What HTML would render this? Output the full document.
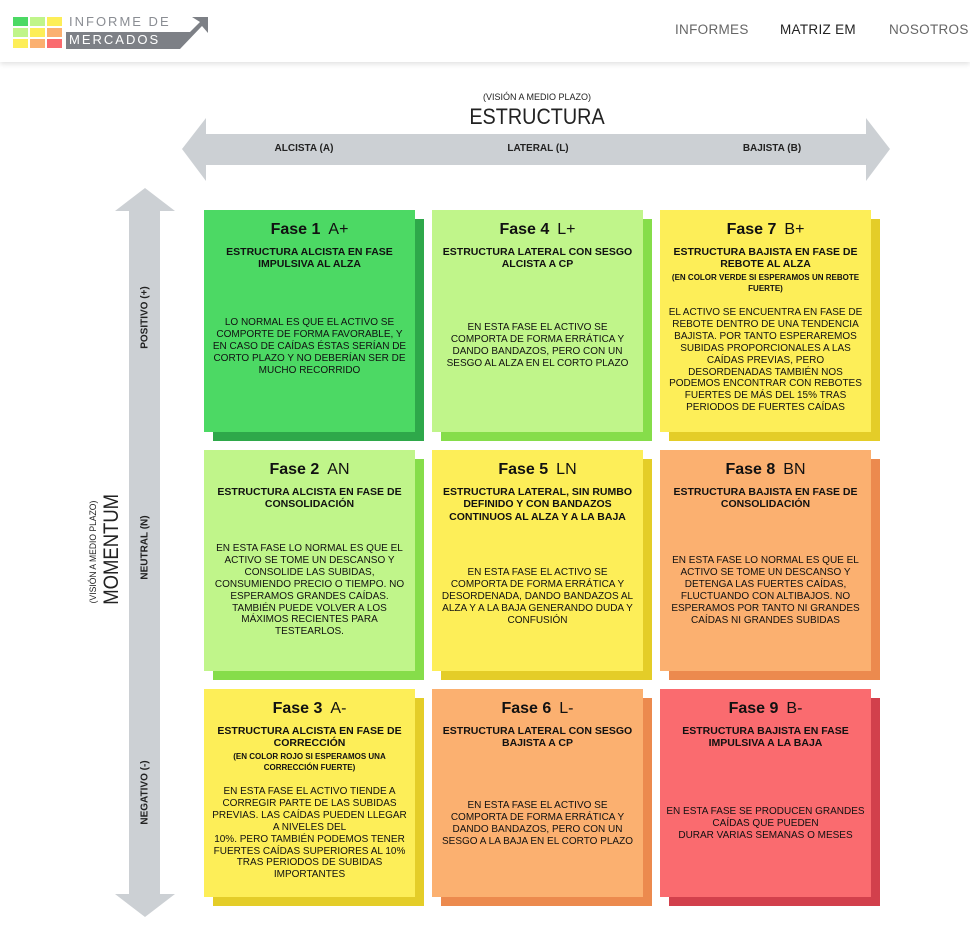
<!DOCTYPE html>
<html><head><meta charset="utf-8">
<style>
*{margin:0;padding:0;box-sizing:border-box}
body{width:970px;height:949px;background:#fff;font-family:"Liberation Sans",sans-serif;position:relative;overflow:hidden;color:#111}
.hdr{position:absolute;left:0;top:0;width:970px;height:62px;background:#fff;box-shadow:0 2px 5px rgba(0,0,0,.12)}
.nav{position:absolute;top:22px;font-size:13.5px;letter-spacing:.3px;color:#666;white-space:nowrap}
.ab{position:absolute;text-align:center;color:#222;white-space:nowrap}
.card{position:absolute;width:211px}
.card .sh{position:absolute;left:9px;top:9px;width:211px}
.card .fr{position:absolute;left:0;top:0;width:211px}
.t{position:absolute;left:0;width:211px;top:11px;text-align:center;font-size:16px;font-weight:bold;line-height:18px}
.t span{font-weight:normal;margin-left:8px}
.tx{position:absolute;left:-10px;width:231px;text-align:center;white-space:nowrap}
.s{font-size:10.5px;font-weight:bold;line-height:12.3px}
.n{font-size:8px;font-weight:bold;line-height:11px;margin-top:1px}
.b{position:absolute;left:-10px;width:231px;text-align:center;font-size:10px;line-height:11.9px;white-space:nowrap}
</style></head><body>
<div class="hdr">
 <div style="position:absolute;left:13px;top:17px;width:58px;height:32px">
  <div style="position:absolute;left:0;top:0;width:15px;height:9px;background:#4cd964"></div>
  <div style="position:absolute;left:17px;top:0;width:15px;height:9px;background:#c0f58a"></div>
  <div style="position:absolute;left:34px;top:0;width:15px;height:9px;background:#fdee58"></div>
  <div style="position:absolute;left:0;top:11px;width:15px;height:9px;background:#c0f58a"></div>
  <div style="position:absolute;left:17px;top:11px;width:15px;height:9px;background:#fdee58"></div>
  <div style="position:absolute;left:34px;top:11px;width:15px;height:9px;background:#fbb070"></div>
  <div style="position:absolute;left:0;top:22px;width:15px;height:9px;background:#fdee58"></div>
  <div style="position:absolute;left:17px;top:22px;width:15px;height:9px;background:#fbb070"></div>
  <div style="position:absolute;left:34px;top:22px;width:15px;height:9px;background:#fa6b6f"></div>
 </div>
 <svg style="position:absolute;left:66px;top:16px" width="142" height="33">
  <polygon points="0,16 124,16 134,6 126,1 142,1 142,17 136,10 114,33 0,33" fill="#7d8086"/>
 </svg>
 <div style="position:absolute;left:69px;top:14px;font-size:13px;letter-spacing:2px;color:#8a8d93">INFORME DE</div>
 <div style="position:absolute;left:69px;top:32px;font-size:13px;letter-spacing:2px;color:#fff">MERCADOS</div>
 <div class="nav" style="left:675px">INFORMES</div>
 <div class="nav" style="left:780px;color:#222">MATRIZ EM</div>
 <div class="nav" style="left:889px">NOSOTROS</div>
</div>

<svg style="position:absolute;left:0;top:0" width="970" height="949">
 <polygon points="182,149 206,118 206,134 866,134 866,118 890,149 866,181 866,165 206,165 206,181" fill="#ccd0d4"/>
 <polygon points="145,188 175,211 160,211 160,894 175,894 145,917 115,894 129,894 129,211 115,211" fill="#ccd0d4"/>
</svg>
<div class="ab" style="left:437px;top:92px;width:200px;font-size:9px">(VISIÓN A MEDIO PLAZO)</div>
<div class="ab" style="left:437px;top:104px;width:200px;font-size:22px;transform:scaleX(.9)">ESTRUCTURA</div>
<div class="ab" style="left:254px;top:143px;width:100px;font-size:10px;font-weight:bold">ALCISTA (A)</div>
<div class="ab" style="left:488px;top:143px;width:100px;font-size:10px;font-weight:bold">LATERAL (L)</div>
<div class="ab" style="left:722px;top:143px;width:100px;font-size:10px;font-weight:bold">BAJISTA (B)</div>
<div class="ab" style="left:33px;top:547px;width:120px;font-size:9px;transform:rotate(-90deg) scaleX(.95)">(VISIÓN A MEDIO PLAZO)</div>
<div class="ab" style="left:52px;top:540px;width:120px;font-size:21px;transform:rotate(-90deg) scaleX(.88)">MOMENTUM</div>
<div class="ab" style="left:95px;top:312px;width:100px;font-size:10px;font-weight:bold;transform:rotate(-90deg)">POSITIVO (+)</div>
<div class="ab" style="left:95px;top:542px;width:100px;font-size:10px;font-weight:bold;transform:rotate(-90deg)">NEUTRAL (N)</div>
<div class="ab" style="left:95px;top:787px;width:100px;font-size:10px;font-weight:bold;transform:rotate(-90deg)">NEGATIVO (-)</div>

<!-- Row 1 -->
<div class="card" style="left:204px;top:210px">
 <div class="sh" style="height:222px;background:#2ea84a"></div><div class="fr" style="height:222px;background:#4cd964"></div>
 <div class="t">Fase 1<span>A+</span></div>
 <div class="tx s" style="top:36px">ESTRUCTURA ALCISTA EN FASE<br>IMPULSIVA AL ALZA</div>
 <div class="b" style="top:107px">LO NORMAL ES QUE EL ACTIVO SE<br>COMPORTE DE FORMA FAVORABLE, Y<br>EN CASO DE CAÍDAS ÉSTAS SERÍAN DE<br>CORTO PLAZO Y NO DEBERÍAN SER DE<br>MUCHO RECORRIDO</div>
</div>
<div class="card" style="left:432px;top:210px">
 <div class="sh" style="height:222px;background:#86dd4a"></div><div class="fr" style="height:222px;background:#c0f58a"></div>
 <div class="t">Fase 4<span>L+</span></div>
 <div class="tx s" style="top:36px">ESTRUCTURA LATERAL CON SESGO<br>ALCISTA A CP</div>
 <div class="b" style="top:112px">EN ESTA FASE EL ACTIVO SE<br>COMPORTA DE FORMA ERRÁTICA Y<br>DANDO BANDAZOS, PERO CON UN<br>SESGO AL ALZA EN EL CORTO PLAZO</div>
</div>
<div class="card" style="left:660px;top:210px">
 <div class="sh" style="height:222px;background:#e4cd28"></div><div class="fr" style="height:222px;background:#fdee58"></div>
 <div class="t">Fase 7<span>B+</span></div>
 <div class="tx s" style="top:36px">ESTRUCTURA BAJISTA EN FASE DE<br>REBOTE AL ALZA<div class="n">(EN COLOR VERDE SI ESPERAMOS UN REBOTE<br>FUERTE)</div></div>
 <div class="b" style="top:97px">EL ACTIVO SE ENCUENTRA EN FASE DE<br>REBOTE DENTRO DE UNA TENDENCIA<br>BAJISTA. POR TANTO ESPERAREMOS<br>SUBIDAS PROPORCIONALES A LAS<br>CAÍDAS PREVIAS, PERO<br>DESORDENADAS TAMBIÉN NOS<br>PODEMOS ENCONTRAR CON REBOTES<br>FUERTES DE MÁS DEL 15% TRAS<br>PERIODOS DE FUERTES CAÍDAS</div>
</div>

<!-- Row 2 -->
<div class="card" style="left:204px;top:450px">
 <div class="sh" style="height:221px;background:#86dd4a"></div><div class="fr" style="height:221px;background:#c0f58a"></div>
 <div class="t">Fase 2<span>AN</span></div>
 <div class="tx s" style="top:36px">ESTRUCTURA ALCISTA EN FASE DE<br>CONSOLIDACIÓN</div>
 <div class="b" style="top:93px">EN ESTA FASE LO NORMAL ES QUE EL<br>ACTIVO SE TOME UN DESCANSO Y<br>CONSOLIDE LAS SUBIDAS,<br>CONSUMIENDO PRECIO O TIEMPO. NO<br>ESPERAMOS GRANDES CAÍDAS.<br>TAMBIÉN PUEDE VOLVER A LOS<br>MÁXIMOS RECIENTES PARA<br>TESTEARLOS.</div>
</div>
<div class="card" style="left:432px;top:450px">
 <div class="sh" style="height:221px;background:#e4cd28"></div><div class="fr" style="height:221px;background:#fdee58"></div>
 <div class="t">Fase 5<span>LN</span></div>
 <div class="tx s" style="top:36px">ESTRUCTURA LATERAL, SIN RUMBO<br>DEFINIDO Y CON BANDAZOS<br>CONTINUOS AL ALZA Y A LA BAJA</div>
 <div class="b" style="top:117px">EN ESTA FASE EL ACTIVO SE<br>COMPORTA DE FORMA ERRÁTICA Y<br>DESORDENADA, DANDO BANDAZOS AL<br>ALZA Y A LA BAJA GENERANDO DUDA Y<br>CONFUSIÓN</div>
</div>
<div class="card" style="left:660px;top:450px">
 <div class="sh" style="height:221px;background:#ec8a4e"></div><div class="fr" style="height:221px;background:#fbb070"></div>
 <div class="t">Fase 8<span>BN</span></div>
 <div class="tx s" style="top:36px">ESTRUCTURA BAJISTA EN FASE DE<br>CONSOLIDACIÓN</div>
 <div class="b" style="top:105px">EN ESTA FASE LO NORMAL ES QUE EL<br>ACTIVO SE TOME UN DESCANSO Y<br>DETENGA LAS FUERTES CAÍDAS,<br>FLUCTUANDO CON ALTIBAJOS. NO<br>ESPERAMOS POR TANTO NI GRANDES<br>CAÍDAS NI GRANDES SUBIDAS</div>
</div>

<!-- Row 3 -->
<div class="card" style="left:204px;top:689px">
 <div class="sh" style="height:208px;background:#e4cd28"></div><div class="fr" style="height:208px;background:#fdee58"></div>
 <div class="t">Fase 3<span>A-</span></div>
 <div class="tx s" style="top:36px">ESTRUCTURA ALCISTA EN FASE DE<br>CORRECCIÓN<div class="n">(EN COLOR ROJO SI ESPERAMOS UNA<br>CORRECCIÓN FUERTE)</div></div>
 <div class="b" style="top:97px">EN ESTA FASE EL ACTIVO TIENDE A<br>CORREGIR PARTE DE LAS SUBIDAS<br>PREVIAS. LAS CAÍDAS PUEDEN LLEGAR<br>A NIVELES DEL<br>10%. PERO TAMBIÉN PODEMOS TENER<br>FUERTES CAÍDAS SUPERIORES AL 10%<br>TRAS PERIODOS DE SUBIDAS<br>IMPORTANTES</div>
</div>
<div class="card" style="left:432px;top:689px">
 <div class="sh" style="height:208px;background:#ec8a4e"></div><div class="fr" style="height:208px;background:#fbb070"></div>
 <div class="t">Fase 6<span>L-</span></div>
 <div class="tx s" style="top:36px">ESTRUCTURA LATERAL CON SESGO<br>BAJISTA A CP</div>
 <div class="b" style="top:111px">EN ESTA FASE EL ACTIVO SE<br>COMPORTA DE FORMA ERRÁTICA Y<br>DANDO BANDAZOS, PERO CON UN<br>SESGO A LA BAJA EN EL CORTO PLAZO</div>
</div>
<div class="card" style="left:660px;top:689px">
 <div class="sh" style="height:208px;background:#d2404c"></div><div class="fr" style="height:208px;background:#fa6b6f"></div>
 <div class="t">Fase 9<span>B-</span></div>
 <div class="tx s" style="top:36px">ESTRUCTURA BAJISTA EN FASE<br>IMPULSIVA A LA BAJA</div>
 <div class="b" style="top:117px">EN ESTA FASE SE PRODUCEN GRANDES<br>CAÍDAS QUE PUEDEN<br>DURAR VARIAS SEMANAS O MESES</div>
</div>
</body></html>
